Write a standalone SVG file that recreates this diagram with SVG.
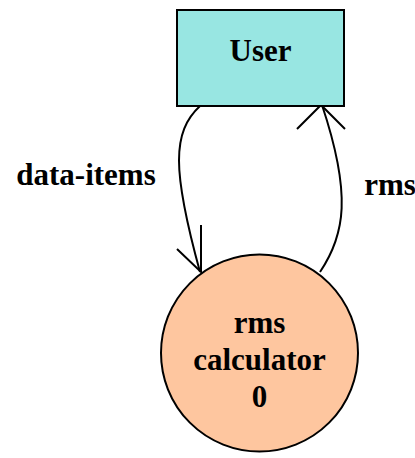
<svg xmlns="http://www.w3.org/2000/svg" width="415" height="458" viewBox="0 0 415 458">
<style>
text{font-family:"Liberation Serif","Times New Roman",serif;font-weight:bold;font-size:31px;fill:#000;text-anchor:middle}
.edge{fill:none;stroke:#000;stroke-width:2}
</style>
<rect width="415" height="458" fill="#fff"/>
<g id="connectors">
<g id="edge-data-items">
<path class="edge" d="M200,106 C172,132 172,170 200,272"/>
<path class="edge" d="M201,225 L201,272 L177,249"/>
<text x="86" y="185">data-items</text>
</g>
<g id="edge-rms">
<path class="edge" d="M320,272 C345,235 352,195 322,105"/>
<path class="edge" d="M297,129 L321,105 L345,129"/>
<text x="390" y="195">rms</text>
</g>
</g>
<g id="node-user">
<rect x="177" y="10" width="167" height="96" fill="#98E6E2" stroke="#000" stroke-width="2"/>
<text x="260.5" y="61">User</text>
</g>
<g id="node-rms-calculator">
<circle cx="259.5" cy="353" r="98.5" fill="#FEC69F" stroke="#000" stroke-width="2"/>
<text x="259.5" y="333">rms</text>
<text x="259.5" y="370">calculator</text>
<text x="259.5" y="407">0</text>
</g>
</svg>
